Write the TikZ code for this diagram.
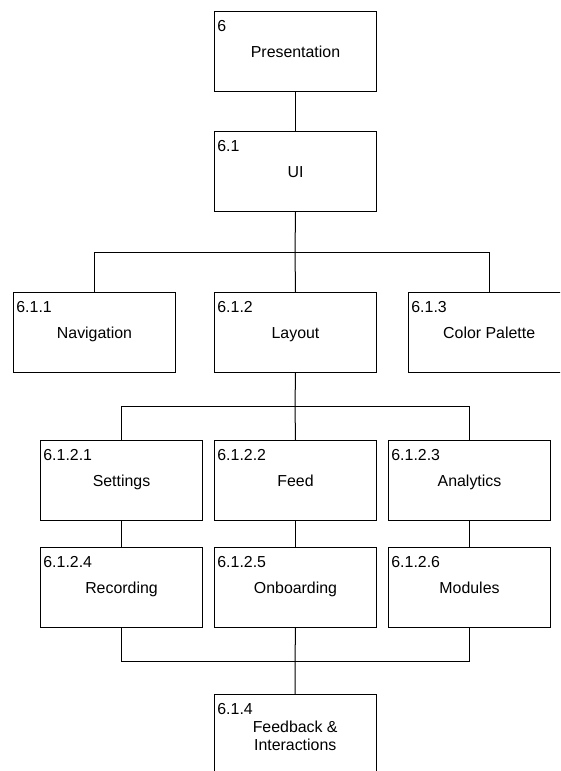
\documentclass[tikz,border=0pt]{standalone}
\usepackage{fontspec}
\setmainfont{Liberation Sans}
\begin{document}
\begin{tikzpicture}[x=1pt,y=-1pt,
  box/.style={draw=black, line width=1pt, minimum width=162pt, minimum height=80pt, inner sep=0pt, anchor=north west},
  openbox/.style={minimum width=162pt, minimum height=80pt, inner sep=0pt, anchor=north west},
  ttl/.style={font=\fontsize{15.9}{18}\selectfont, align=center, inner sep=0pt, anchor=base, yshift=-6.2pt},
  num/.style={font=\fontsize{15.9}{18}\selectfont, inner sep=0pt, anchor=base west, xshift=3.2pt, yshift=-20.2pt},
  conn/.style={draw=black, line width=1pt}]
\useasboundingbox (0,0) rectangle (560,771);
\clip (0,0) rectangle (560,771);
% boxes
\node[box] (p) at (214,11) {};
\node[box] (ui) at (214,131) {};
\node[box] (nav) at (13,292) {};
\node[box] (lay) at (214,292) {};
\node[openbox] (col) at (408,292) {};
\node[box] (set) at (40,440) {};
\node[box] (feed) at (214,440) {};
\node[box] (ana) at (388,440) {};
\node[box] (rec) at (40,547) {};
\node[box] (onb) at (214,547) {};
\node[box] (mod) at (388,547) {};
\node[openbox] (fb) at (214,694) {};
% box outlines cut by the picture edge
\draw[conn] (col.north east) -- (col.north west) -- (col.south west) -- (col.south east);
\draw[conn] (fb.south west) -- (fb.north west) -- (fb.north east) -- (fb.south east);
% numbers
\node[num] (pn) at (p.north west) {6};
\node[num] (uin) at (ui.north west) {6.1};
\node[num] (navn) at (nav.north west) {6.1.1};
\node[num] (layn) at (lay.north west) {6.1.2};
\node[num] (coln) at (col.north west) {6.1.3};
\node[num] (setn) at (set.north west) {6.1.2.1};
\node[num] (feedn) at (feed.north west) {6.1.2.2};
\node[num] (anan) at (ana.north west) {6.1.2.3};
\node[num] (recn) at (rec.north west) {6.1.2.4};
\node[num] (onbn) at (onb.north west) {6.1.2.5};
\node[num] (modn) at (mod.north west) {6.1.2.6};
\node[num] (fbn) at (fb.north west) {6.1.4};
% titles
\node[ttl] (pt) at (p.center) {Presentation};
\node[ttl] (uit) at (ui.center) {UI};
\node[ttl] (navt) at (nav.center) {Navigation};
\node[ttl] (layt) at (lay.center) {Layout};
\node[ttl] (colt) at (col.center) {Color Palette};
\node[ttl] (sett) at (set.center) {Settings};
\node[ttl] (feedt) at (feed.center) {Feed};
\node[ttl] (anat) at (ana.center) {Analytics};
\node[ttl] (rect) at (rec.center) {Recording};
\node[ttl] (onbt) at (onb.center) {Onboarding};
\node[ttl] (modt) at (mod.center) {Modules};
\node[ttl, anchor=north, yshift=19.5pt] (fbt) at (fb.center) {Feedback \&\\Interactions};
% bus points
\coordinate (b1) at (295,252);
\coordinate (b2) at (295,406);
\coordinate (b3) at (295,661);
% connectors
\draw[conn] (p.south) -- (ui.north);
\draw[conn] (ui.south) -- (b1) -- (lay.north);
\draw[conn] (b1) -| (nav.north);
\draw[conn] (b1) -| (col.north);
\draw[conn] (lay.south) -- (b2) -- (feed.north);
\draw[conn] (b2) -| (set.north);
\draw[conn] (b2) -| (ana.north);
\draw[conn] (set.south) -- (rec.north);
\draw[conn] (feed.south) -- (onb.north);
\draw[conn] (ana.south) -- (mod.north);
\draw[conn] (rec.south) |- (b3);
\draw[conn] (mod.south) |- (b3);
\draw[conn] (onb.south) -- (b3) -- (fb.north);
\end{tikzpicture}
\end{document}
